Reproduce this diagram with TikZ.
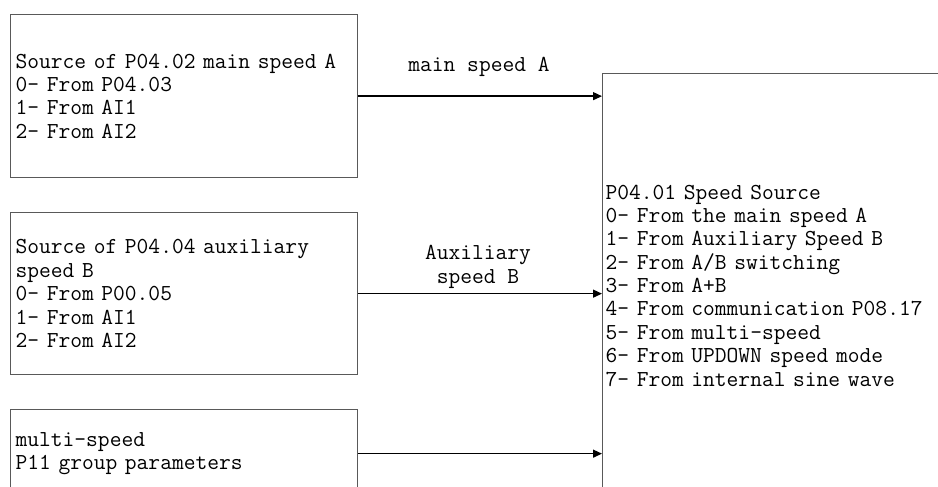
\documentclass[tikz,border=0pt]{standalone}
\usepackage{fontspec}
\usetikzlibrary{arrows.meta,positioning}
\tikzset{
  pmtext/.style={font=\ttfamily\fontsize{13}{13.3}\selectfont},
  srcbox/.style={rectangle, draw=black!65, line width=0.75pt, anchor=north west,
                 align=left, text width=6.74cm, inner xsep=0.1cm, inner ysep=0pt, pmtext},
  selbox/.style={srcbox, text width=7.1cm, inner xsep=0.06cm},
  flowlabel/.style={align=center, inner sep=0pt, pmtext},
  flow/.style={-{Triangle[length=1.8mm, width=1.6mm]}, line width=0.75pt, black},
}
\begin{document}
\begin{tikzpicture}[x=0.02cm, y=-0.02cm]
\useasboundingbox (0,0) rectangle (938,487);
\clip (0,0) rectangle (938,487);
% source boxes
\node[srcbox, minimum height=3.26cm] (srcA) at (10,14)
  {Source of P04.02 main speed A\\0- From P04.03\\1- From AI1\\2- From AI2};
\node[srcbox, minimum height=3.24cm] (srcB) at (10,212)
  {Source of P04.04 auxiliary\\speed B\\0- From P00.05\\1- From AI1\\2- From AI2};
\node[srcbox, minimum height=1.76cm] (multi) at (10,409)
  {multi-speed\\P11 group parameters};
% speed source selection
\node[selbox, minimum height=8.48cm] (speed) at (602,73)
  {P04.01 Speed Source\\0- From the main speed A\\1- From Auxiliary Speed B\\2- From A/B switching\\3- From A+B\\4- From communication P08.17\\5- From multi-speed\\6- From UPDOWN speed mode\\7- From internal sine wave};
% labels
\node[flowlabel] (labA) at (479,67) {main speed A};
\node[flowlabel] (labB) at (478,267) {Auxiliary\\speed B};
% connections
\draw[flow] (srcA.east) -- (srcA.east -| speed.west);
\draw[flow] (srcB.east) -- (srcB.east -| speed.west);
\draw[flow] (multi.east) -- (multi.east -| speed.west);
\end{tikzpicture}
\end{document}
